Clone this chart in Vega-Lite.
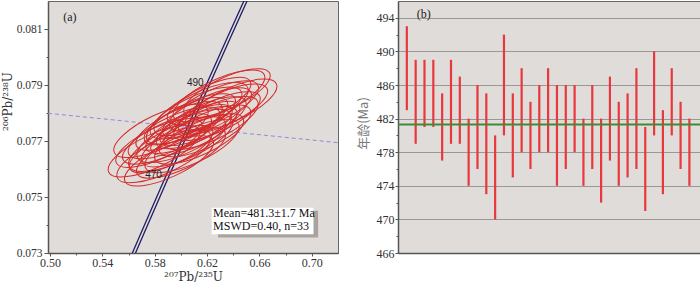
{
  "$schema": "https://vega.github.io/schema/vega-lite/v6.json",
  "padding": {"left": 0, "top": 0, "right": 0, "bottom": 0},
  "background": "white",
  "spacing": 60,
  "bounds": "flush",
  "config": {
    "view": {"fill": "#e0dcd9", "stroke": "#666666", "strokeWidth": 1},
    "font": "Liberation Serif",
    "axis": {
      "labelFont": "Liberation Serif",
      "labelFontSize": 12,
      "labelColor": "#333333",
      "labelOverlap": false,
      "domainColor": "#555555",
      "domainWidth": 1.5,
      "tickColor": "#555555",
      "titleFont": "Liberation Serif",
      "titleFontWeight": "normal",
      "titleColor": "#333333"
    }
  },
  "datasets": {
    "ages": [
      {"spot": 1, "lo": 483, "hi": 493}, {"spot": 2, "lo": 479, "hi": 489},
      {"spot": 3, "lo": 481, "hi": 489}, {"spot": 4, "lo": 481, "hi": 489},
      {"spot": 5, "lo": 477, "hi": 485}, {"spot": 6, "lo": 479, "hi": 489},
      {"spot": 7, "lo": 479, "hi": 487}, {"spot": 8, "lo": 474, "hi": 482},
      {"spot": 9, "lo": 476, "hi": 486}, {"spot": 10, "lo": 473, "hi": 485},
      {"spot": 11, "lo": 470, "hi": 480}, {"spot": 12, "lo": 480, "hi": 492},
      {"spot": 13, "lo": 475, "hi": 485}, {"spot": 14, "lo": 478, "hi": 488},
      {"spot": 15, "lo": 476, "hi": 484}, {"spot": 16, "lo": 478, "hi": 486},
      {"spot": 17, "lo": 478, "hi": 488}, {"spot": 18, "lo": 474, "hi": 486},
      {"spot": 19, "lo": 476, "hi": 486}, {"spot": 20, "lo": 478, "hi": 486},
      {"spot": 21, "lo": 474, "hi": 482}, {"spot": 22, "lo": 476, "hi": 486},
      {"spot": 23, "lo": 472, "hi": 482}, {"spot": 24, "lo": 477, "hi": 487},
      {"spot": 25, "lo": 474, "hi": 484}, {"spot": 26, "lo": 475, "hi": 485},
      {"spot": 27, "lo": 476, "hi": 488}, {"spot": 28, "lo": 471, "hi": 481},
      {"spot": 29, "lo": 480, "hi": 490}, {"spot": 30, "lo": 473, "hi": 483},
      {"spot": 31, "lo": 480, "hi": 488}, {"spot": 32, "lo": 476, "hi": 484},
      {"spot": 33, "lo": 474, "hi": 482}
    ],
    "ellipses": [
      {"x207": 0.5795, "y206": 0.07664, "err": 0.035},
      {"x207": 0.5833, "y206": 0.07693, "err": 0.033},
      {"x207": 0.5871, "y206": 0.07646, "err": 0.036},
      {"x207": 0.5894, "y206": 0.07707, "err": 0.034},
      {"x207": 0.5925, "y206": 0.07671, "err": 0.032},
      {"x207": 0.5948, "y206": 0.07729, "err": 0.035},
      {"x207": 0.5971, "y206": 0.07689, "err": 0.037},
      {"x207": 0.5986, "y206": 0.07754, "err": 0.033},
      {"x207": 0.6001, "y206": 0.07657, "err": 0.034},
      {"x207": 0.6024, "y206": 0.07718, "err": 0.036},
      {"x207": 0.6039, "y206": 0.07771, "err": 0.032},
      {"x207": 0.6047, "y206": 0.07700, "err": 0.035},
      {"x207": 0.6062, "y206": 0.07743, "err": 0.033},
      {"x207": 0.6077, "y206": 0.07779, "err": 0.034},
      {"x207": 0.6085, "y206": 0.07682, "err": 0.036},
      {"x207": 0.6100, "y206": 0.07736, "err": 0.033},
      {"x207": 0.6116, "y206": 0.07800, "err": 0.035},
      {"x207": 0.6131, "y206": 0.07757, "err": 0.032},
      {"x207": 0.6139, "y206": 0.07707, "err": 0.034},
      {"x207": 0.6154, "y206": 0.07814, "err": 0.036},
      {"x207": 0.6169, "y206": 0.07771, "err": 0.033},
      {"x207": 0.6184, "y206": 0.07736, "err": 0.035},
      {"x207": 0.6200, "y206": 0.07800, "err": 0.034},
      {"x207": 0.6215, "y206": 0.07843, "err": 0.032},
      {"x207": 0.6230, "y206": 0.07764, "err": 0.036},
      {"x207": 0.6253, "y206": 0.07825, "err": 0.034},
      {"x207": 0.6276, "y206": 0.07789, "err": 0.033},
      {"x207": 0.6291, "y206": 0.07861, "err": 0.035},
      {"x207": 0.6322, "y206": 0.07814, "err": 0.034},
      {"x207": 0.6352, "y206": 0.07871, "err": 0.033},
      {"x207": 0.6383, "y206": 0.07829, "err": 0.035},
      {"x207": 0.5909, "y206": 0.07629, "err": 0.034},
      {"x207": 0.5848, "y206": 0.07736, "err": 0.036}
    ],
    "concordia": [
      {"band": "a", "t": 450, "x": 0.55646, "y": 0.072300},
      {"band": "a", "t": 460, "x": 0.57187, "y": 0.073965},
      {"band": "a", "t": 470, "x": 0.58744, "y": 0.075632},
      {"band": "a", "t": 480, "x": 0.60317, "y": 0.077302},
      {"band": "a", "t": 490, "x": 0.61904, "y": 0.078975},
      {"band": "a", "t": 500, "x": 0.63508, "y": 0.080650},
      {"band": "a", "t": 510, "x": 0.65127, "y": 0.082327},
      {"band": "b", "t": 450, "x": 0.55886, "y": 0.072300},
      {"band": "b", "t": 460, "x": 0.57427, "y": 0.073965},
      {"band": "b", "t": 470, "x": 0.58984, "y": 0.075632},
      {"band": "b", "t": 480, "x": 0.60557, "y": 0.077302},
      {"band": "b", "t": 490, "x": 0.62144, "y": 0.078975},
      {"band": "b", "t": 500, "x": 0.63748, "y": 0.080650},
      {"band": "b", "t": 510, "x": 0.65367, "y": 0.082327}
    ]
  },
  "hconcat": [
    {
      "width": 290,
      "height": 252,
      "layer": [
        {
          "data": {"values": [{"x": 0.4985, "y": 0.07799}, {"x": 0.72, "y": 0.07694}]},
          "mark": {"type": "line", "color": "#8c8cde", "strokeDash": [4, 3], "strokeWidth": 1, "clip": true},
          "encoding": {
            "x": {
              "field": "x", "type": "quantitative",
              "scale": {"domain": [0.4985, 0.72], "nice": false, "zero": false},
              "axis": {
                "values": [0.50, 0.52, 0.54, 0.56, 0.58, 0.60, 0.62, 0.64, 0.66, 0.68, 0.70],
                "tickCount": 100,
                "labelExpr": "round(datum.value*100) % 4 == 2 ? format(datum.value, '.2f') : ''",
                "tickSize": {"condition": {"test": "round(datum.value*100) % 4 == 2", "value": 3}, "value": 2},
                "labelPadding": 1,
                "labelOverlap": false,
                "grid": false,
                "title": "²⁰⁷Pb/²³⁵U",
                "titleFont": "DejaVu Serif",
                "titleFontSize": 12,
                "titlePadding": 3
              }
            },
            "y": {
              "field": "y", "type": "quantitative",
              "scale": {"domain": [0.073, 0.082], "nice": false, "zero": false},
              "axis": {
                "values": [0.073, 0.074, 0.075, 0.076, 0.077, 0.078, 0.079, 0.080, 0.081],
                "tickCount": 100,
                "labelExpr": "round(datum.value*1000) % 2 == 1 ? format(datum.value, '.3f') : ''",
                "tickSize": {"condition": {"test": "round(datum.value*1000) % 2 == 1", "value": 4}, "value": 2},
                "labelFontSize": 11.5,
                "labelPadding": 2,
                "labelOverlap": false,
                "grid": false,
                "title": "²⁰⁶Pb/²³⁸U",
                "titleFont": "DejaVu Serif",
                "titleFontSize": 12,
                "titlePadding": 2,
                "titleY": 100
              }
            }
          }
        },
        {
          "data": {"name": "concordia"},
          "mark": {"type": "line", "color": "#1e1e66", "strokeWidth": 1.3, "clip": true},
          "encoding": {
            "x": {"field": "x", "type": "quantitative"},
            "y": {"field": "y", "type": "quantitative"},
            "detail": {"field": "band"},
            "order": {"field": "t"}
          }
        },
        {
          "data": {"name": "ellipses"},
          "mark": {
            "type": "point",
            "shape": "M1,0C1,0.1823,0.5523,0.33,0,0.33C-0.5523,0.33,-1,0.1823,-1,0C-1,-0.1823,-0.5523,-0.33,0,-0.33C0.5523,-0.33,1,-0.1823,1,0Z",
            "filled": false,
            "color": "#d42b2b",
            "strokeWidth": 1,
            "opacity": 1,
            "angle": 335,
            "clip": true
          },
          "encoding": {
            "x": {"field": "x207", "type": "quantitative"},
            "y": {"field": "y206", "type": "quantitative"},
            "size": {"field": "err", "type": "quantitative", "scale": {"type": "pow", "exponent": 2, "domain": [0, 0.04], "range": [0, 13061]}, "legend": null}
          }
        },
        {
          "data": {"values": [{"x": 0.6110, "y": 0.07908, "label": "490"}, {"x": 0.5791, "y": 0.07579, "label": "470"}]},
          "mark": {"type": "text", "font": "Liberation Sans", "fontSize": 10, "color": "#222222"},
          "encoding": {
            "x": {"field": "x", "type": "quantitative"},
            "y": {"field": "y", "type": "quantitative"},
            "text": {"field": "label"}
          }
        },
        {
          "data": {"values": [{"x": 0.5152, "y": 0.08144, "label": "(a)"}]},
          "mark": {"type": "text", "font": "Liberation Serif", "fontSize": 12, "color": "#222222"},
          "encoding": {
            "x": {"field": "x", "type": "quantitative"},
            "y": {"field": "y", "type": "quantitative"},
            "text": {"field": "label"}
          }
        },
        {
          "data": {"values": [{"x1": 0.6284, "x2": 0.7048, "y1": 0.07451, "y2": 0.07355}]},
          "mark": {"type": "rect", "color": "#a9a39f"},
          "encoding": {
            "x": {"field": "x1", "type": "quantitative"},
            "x2": {"field": "x2"},
            "y": {"field": "y1", "type": "quantitative"},
            "y2": {"field": "y2"}
          }
        },
        {
          "data": {"values": [{"x1": 0.6235, "x2": 0.7013, "y1": 0.07462, "y2": 0.07367}]},
          "mark": {"type": "rect", "color": "#ffffff"},
          "encoding": {
            "x": {"field": "x1", "type": "quantitative"},
            "x2": {"field": "x2"},
            "y": {"field": "y1", "type": "quantitative"},
            "y2": {"field": "y2"}
          }
        },
        {
          "data": {"values": [{"x": 0.6246, "y": 0.07443, "label": "Mean=481.3±1.7 Ma"}, {"x": 0.6246, "y": 0.07396, "label": "MSWD=0.40, n=33"}]},
          "mark": {"type": "text", "align": "left", "baseline": "middle", "font": "Liberation Serif", "fontSize": 12, "color": "#111111"},
          "encoding": {
            "x": {"field": "x", "type": "quantitative"},
            "y": {"field": "y", "type": "quantitative"},
            "text": {"field": "label"}
          }
        }
      ]
    },
    {
      "width": 302,
      "height": 252,
      "layer": [
        {
          "data": {"name": "ages"},
          "mark": {"type": "rule", "color": "#e8383d", "strokeWidth": 2.2},
          "encoding": {
            "x": {
              "field": "spot", "type": "quantitative",
              "scale": {"domain": [0, 34.2], "nice": false, "zero": false},
              "axis": {"labels": false, "ticks": false, "title": null, "grid": false}
            },
            "y": {
              "field": "lo", "type": "quantitative",
              "scale": {"domain": [466, 496], "nice": false, "zero": false},
              "axis": {
                "values": [466, 468, 470, 472, 474, 476, 478, 480, 482, 484, 486, 488, 490, 492, 494],
                "tickCount": 100,
                "labelExpr": "datum.value % 4 == 2 ? format(datum.value, 'd') : ''",
                "tickSize": {"condition": {"test": "datum.value % 4 == 2", "value": 3}, "value": 2},
                "labelPadding": 1,
                "labelOverlap": false,
                "labelFlush": false,
                "grid": true,
                "gridColor": "#9c9793",
                "gridWidth": 1.2,
                "gridOpacity": {"condition": {"test": "datum.value % 4 == 2 && datum.value > 466", "value": 1}, "value": 0},
                "title": "年龄(Ma)",
                "titleFont": "Noto Sans CJK SC",
                "titleFontSize": 13,
                "titleColor": "#7a7a7a",
                "titlePadding": 6,
                "titleY": 122
              }
            },
            "y2": {"field": "hi"}
          }
        },
        {
          "data": {"values": [{"mean": 481.3}]},
          "mark": {"type": "rule", "color": "#3d8b37", "strokeWidth": 2},
          "encoding": {
            "y": {"field": "mean", "type": "quantitative"}
          }
        },
        {
          "data": {"values": [{"x": 2.91, "y": 494.5, "label": "(b)"}]},
          "mark": {"type": "text", "font": "Liberation Serif", "fontSize": 12, "color": "#222222"},
          "encoding": {
            "x": {"field": "x", "type": "quantitative"},
            "y": {"field": "y", "type": "quantitative"},
            "text": {"field": "label"}
          }
        }
      ]
    }
  ]
}
